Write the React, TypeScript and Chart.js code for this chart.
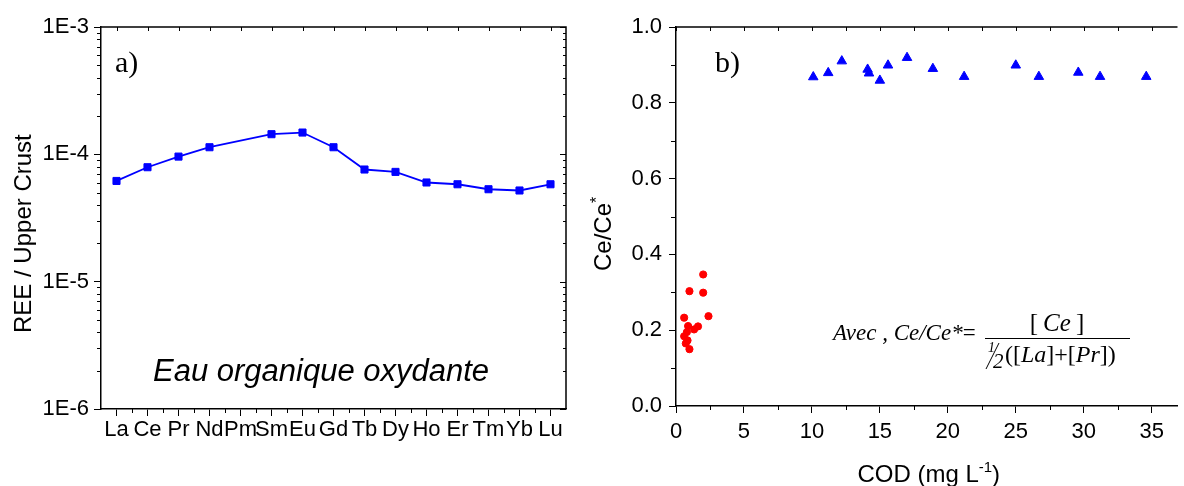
import { useEffect, useRef } from 'react';
import { Chart, registerables } from 'chart.js';

Chart.register(...registerables);

// ---------- data ----------
const ELEMENTS = ['La', 'Ce', 'Pr', 'Nd', 'Pm', 'Sm', 'Eu', 'Gd', 'Tb', 'Dy', 'Ho', 'Er', 'Tm', 'Yb', 'Lu'];
const REE_NORMALIZED: (number | null)[] = [
  6.18e-5, 7.92e-5, 9.6e-5, 1.137e-4, null, 1.439e-4, 1.483e-4, 1.137e-4,
  7.6e-5, 7.28e-5, 6.01e-5, 5.82e-5, 5.32e-5, 5.2e-5, 5.82e-5,
];
const Y_DECADES = [1e-6, 1e-5, 1e-4, 1e-3];

const COD_OXIC = [10.1, 11.2, 12.2, 14.1, 14.2, 15.0, 15.6, 17.0, 18.9, 21.2, 25.0, 26.7, 29.6, 31.2, 34.6];
const CE_OXIC = [0.868, 0.879, 0.91, 0.888, 0.878, 0.859, 0.899, 0.919, 0.89, 0.869, 0.899, 0.869, 0.88, 0.869, 0.869];
const COD_ANOXIC = [0.99, 2.0, 2.0, 2.39, 0.6, 0.89, 1.62, 1.33, 0.8, 0.6, 0.85, 0.72, 0.99];
const CE_ANOXIC = [0.303, 0.347, 0.299, 0.237, 0.233, 0.211, 0.21, 0.202, 0.195, 0.184, 0.173, 0.165, 0.15];
const COD_TICKS = [0, 5, 10, 15, 20, 25, 30, 35];
const CE_TICKS = [0, 0.2, 0.4, 0.6, 0.8, 1.0];

const SANS = "'Liberation Sans', Arial, sans-serif";
const SERIF = "'Liberation Serif', 'Times New Roman', serif";
const BLUE = '#0000ff';
const RED = '#ff0000';

type Run = [string, string, number?];

function drawRuns(ctx: CanvasRenderingContext2D, x: number, y: number, parts: Run[]) {
  let cx = x;
  for (const [t, f, dy] of parts) {
    ctx.font = f;
    ctx.fillText(t, cx, y + (dy || 0));
    cx += ctx.measureText(t).width;
  }
  return cx;
}
function measureRuns(ctx: CanvasRenderingContext2D, parts: Run[]) {
  let w = 0;
  for (const [t, f] of parts) {
    ctx.font = f;
    w += ctx.measureText(t).width;
  }
  return w;
}

const leftDecor = {
  id: 'leftDecor',
  afterDraw(chart: any) {
    const { ctx, chartArea: a } = chart;
    const xs = chart.scales.x;
    const ys = chart.scales.y;
    ctx.save();
    ctx.strokeStyle = '#000';
    ctx.lineWidth = 1.5;
    ctx.beginPath();
    ctx.moveTo(a.left, a.top);
    ctx.lineTo(a.right, a.top);
    ctx.lineTo(a.right, a.bottom);
    ctx.stroke();
    ctx.lineWidth = 1;
    ctx.beginPath();
    for (let e = -6; e < -3; e++) {
      for (let k = 2; k <= 9; k++) {
        const py = Math.round(ys.getPixelForValue(k * Math.pow(10, e))) + 0.5;
        ctx.moveTo(a.left - 4, py);
        ctx.lineTo(a.left, py);
        ctx.moveTo(a.right, py);
        ctx.lineTo(a.right - 3, py);
      }
    }
    for (const v of Y_DECADES) {
      const py = Math.round(ys.getPixelForValue(v)) + 0.5;
      ctx.moveTo(a.right, py);
      ctx.lineTo(a.right - 6, py);
    }
    for (let i = 0; i < ELEMENTS.length; i++) {
      const px = Math.round(xs.getPixelForValue(i)) + 0.5;
      ctx.moveTo(px, a.top);
      ctx.lineTo(px, a.top + 4);
      if (i < ELEMENTS.length - 1) {
        const bx = Math.round((xs.getPixelForValue(i) + xs.getPixelForValue(i + 1)) / 2) + 0.5;
        ctx.moveTo(bx, a.bottom);
        ctx.lineTo(bx, a.bottom + 4);
      }
    }
    ctx.stroke();

    ctx.fillStyle = '#000';
    ctx.textAlign = 'left';
    ctx.textBaseline = 'alphabetic';
    ctx.font = `30px ${SERIF}`;
    ctx.fillText('a)', 115, 72);
    ctx.font = `italic 31px ${SANS}`;
    ctx.fillText('Eau organique oxydante', 153, 381);
    ctx.translate(30.5, 333);
    ctx.rotate(-Math.PI / 2);
    ctx.font = `24px ${SANS}`;
    ctx.fillText('REE / Upper Crust', 0, 0);
    ctx.restore();
  },
};

const rightDecor = {
  id: 'rightDecor',
  afterDraw(chart: any) {
    const { ctx, chartArea: a } = chart;
    const xs = chart.scales.x;
    const ys = chart.scales.y;
    ctx.save();
    ctx.strokeStyle = '#000';
    ctx.lineWidth = 1.5;
    ctx.beginPath();
    ctx.moveTo(a.left, a.top);
    ctx.lineTo(a.right, a.top);
    ctx.stroke();
    ctx.lineWidth = 1;
    ctx.beginPath();
    for (let v = 0; v <= 36; v += 2.5) {
      const px = Math.round(xs.getPixelForValue(v)) + 0.5;
      ctx.moveTo(px, a.top);
      ctx.lineTo(px, a.top + 4);
      if (v % 5 !== 0) {
        ctx.moveTo(px, a.bottom);
        ctx.lineTo(px, a.bottom + 4);
      }
    }
    for (let v = 0.1; v < 1; v += 0.2) {
      const py = Math.round(ys.getPixelForValue(v)) + 0.5;
      ctx.moveTo(a.left - 5, py);
      ctx.lineTo(a.left, py);
    }
    ctx.stroke();

    ctx.fillStyle = '#000';
    ctx.textAlign = 'left';
    ctx.textBaseline = 'alphabetic';
    ctx.font = `30px ${SERIF}`;
    ctx.fillText('b)', 135, 72);

    // x title
    const xt: Run[] = [
      ['COD (mg L', `24px ${SANS}`],
      ['-1', `15px ${SANS}`, -10],
      [')', `24px ${SANS}`],
    ];
    const w = measureRuns(ctx, xt);
    drawRuns(ctx, (a.left + a.right) / 2 - w / 2 + 2, 482, xt);

    // formula
    const it = `italic 23px ${SERIF}`;
    const rg = `23px ${SERIF}`;
    drawRuns(ctx, 253, 340, [['Avec , Ce/Ce*', it], ['=', rg]]);
    ctx.lineWidth = 1;
    ctx.beginPath();
    ctx.moveTo(405, 338.5);
    ctx.lineTo(550, 338.5);
    ctx.stroke();
    const itN = `italic 25px ${SERIF}`;
    const rgN = `25px ${SERIF}`;
    const num: Run[] = [['[', rgN], ['\u2009', rgN], ['Ce', itN], ['\u2009', rgN], [']', rgN]];
    const nw = measureRuns(ctx, num);
    drawRuns(ctx, 477 - nw / 2, 331, num);
    ctx.font = `italic 14px ${SERIF}`;
    ctx.fillText('1', 408, 352);
    ctx.beginPath();
    ctx.moveTo(406, 369);
    ctx.lineTo(419, 343);
    ctx.stroke();
    ctx.font = `italic 21px ${SERIF}`;
    ctx.fillText('2', 413, 368);
    const itD = `italic 24px ${SERIF}`;
    const rgD = `24px ${SERIF}`;
    drawRuns(ctx, 425, 362, [
      ['([', rgD], ['La', itD], [']+[', rgD], ['Pr', itD], ['])', rgD],
    ]);

    // y title
    ctx.translate(31, 271);
    ctx.rotate(-Math.PI / 2);
    drawRuns(ctx, 0, 0, [
      ['Ce/Ce', `24px ${SANS}`],
      ['*', `16px ${SANS}`, -9],
    ]);
    ctx.restore();
  },
};

export default function App() {
  const leftRef = useRef<HTMLCanvasElement>(null);
  const rightRef = useRef<HTMLCanvasElement>(null);

  useEffect(() => {
    const tickFont = { family: SANS, size: 22 };
    const axisGrid = { display: true, drawOnChartArea: false, drawTicks: true, tickLength: 7, color: '#000', lineWidth: 1 };
    const axisBorder = { display: true, color: '#000', width: 1.5 };

    const left = new Chart(leftRef.current as HTMLCanvasElement, {
      type: 'line',
      data: {
        labels: ELEMENTS,
        datasets: [
          {
            data: REE_NORMALIZED,
            borderColor: BLUE,
            backgroundColor: BLUE,
            borderWidth: 1.8,
            pointStyle: 'rect',
            pointRadius: 5,
            pointBorderWidth: 1,
            spanGaps: true,
            tension: 0,
          },
        ],
      },
      options: {
        animation: false,
        responsive: false,
        devicePixelRatio: 1,
        layout: { padding: { top: 27, right: 14, left: 0, bottom: 0 } },
        plugins: { legend: { display: false }, tooltip: { enabled: false } },
        scales: {
          x: {
            type: 'category',
            offset: true,
            grid: { ...axisGrid, offset: false },
            border: axisBorder,
            ticks: { color: '#000', font: tickFont, padding: 1, autoSkip: false, maxRotation: 0 },
            afterFit: (s: any) => {
              s.height = 77;
            },
          },
          y: {
            type: 'logarithmic',
            min: 1e-6,
            max: 1e-3,
            grid: axisGrid,
            border: axisBorder,
            ticks: {
              color: '#000',
              font: tickFont,
              padding: 5,
              callback: (v: any) => '1E' + Math.round(Math.log10(Number(v))),
            },
            afterBuildTicks: (s: any) => {
              s.ticks = Y_DECADES.map((v) => ({ value: v }));
            },
            afterFit: (s: any) => {
              s.width = 101;
            },
          },
        },
      } as any,
      plugins: [leftDecor],
    });

    const right = new Chart(rightRef.current as HTMLCanvasElement, {
      type: 'scatter',
      data: {
        datasets: [
          {
            data: COD_OXIC.map((x, i) => ({ x, y: CE_OXIC[i] })),
            pointStyle: 'triangle',
            pointRadius: 5.5,
            pointBorderWidth: 1,
            borderColor: BLUE,
            backgroundColor: BLUE,
          },
          {
            data: COD_ANOXIC.map((x, i) => ({ x, y: CE_ANOXIC[i] })),
            pointStyle: 'circle',
            pointRadius: 3.6,
            pointBorderWidth: 1,
            borderColor: RED,
            backgroundColor: RED,
          },
        ],
      },
      options: {
        animation: false,
        responsive: false,
        devicePixelRatio: 1,
        layout: { padding: { top: 27, right: 0, left: 0, bottom: 0 } },
        plugins: { legend: { display: false }, tooltip: { enabled: false } },
        scales: {
          x: {
            type: 'linear',
            min: 0,
            max: 36.9,
            grid: axisGrid,
            border: axisBorder,
            ticks: { color: '#000', font: tickFont, padding: 6, maxRotation: 0 },
            afterBuildTicks: (s: any) => {
              s.ticks = COD_TICKS.map((v) => ({ value: v }));
            },
            afterFit: (s: any) => {
              s.height = 80;
            },
          },
          y: {
            type: 'linear',
            min: 0,
            max: 1,
            grid: axisGrid,
            border: axisBorder,
            ticks: {
              color: '#000',
              font: tickFont,
              padding: 7,
              callback: (v: any) => Number(v).toFixed(1),
            },
            afterBuildTicks: (s: any) => {
              s.ticks = CE_TICKS.map((v) => ({ value: v }));
            },
            afterFit: (s: any) => {
              s.width = 96;
            },
          },
        },
      } as any,
      plugins: [rightDecor],
    });

    return () => {
      left.destroy();
      right.destroy();
    };
  }, []);

  return (
    <div style={{ position: 'absolute', left: 0, top: 0, width: 1184, height: 486, background: '#fff', overflow: 'hidden' }}>
      <canvas ref={leftRef} width={580} height={486} style={{ position: 'absolute', left: 0, top: 0 }} />
      <canvas ref={rightRef} width={604} height={486} style={{ position: 'absolute', left: 580, top: 0 }} />
    </div>
  );
}
